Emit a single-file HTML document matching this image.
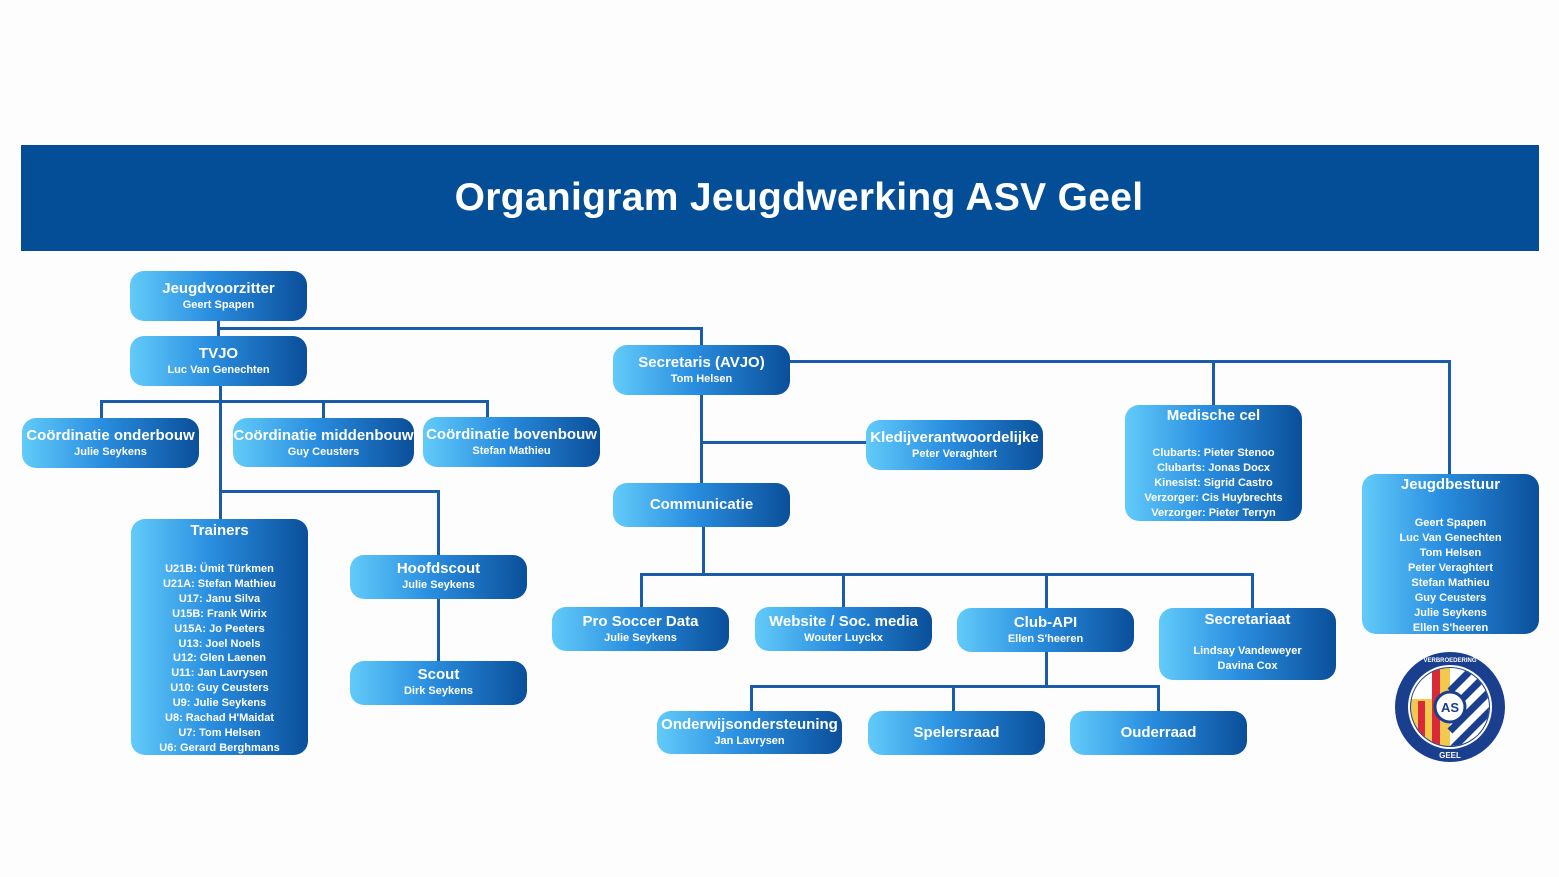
<!DOCTYPE html>
<html><head><meta charset="utf-8"><style>
body{margin:0;width:1559px;height:877px;background:#fdfdfd;position:relative;overflow:hidden;font-family:"Liberation Sans",sans-serif;}
.band{position:absolute;left:21px;top:145px;width:1518px;height:106px;background:#034e96;color:#fff;font-weight:bold;font-size:39px;text-align:center;line-height:106px;letter-spacing:0.3px;box-sizing:border-box;padding-left:38px}
.n{position:absolute;border-radius:14px;background:linear-gradient(90deg,#62cbf9 0%,#2a8ee0 45%,#0a4f9a 100%);color:#fff;text-align:center;font-weight:bold;box-sizing:border-box;padding-top:9px;white-space:nowrap}
.n b{display:block;font-size:15px;line-height:18px}
.n i{display:block;font-style:normal;font-size:11px;line-height:15px}
.l{position:absolute;background:#1a5ca8}
</style></head><body>
<div class="band">Organigram Jeugdwerking ASV Geel</div>

<div class="l" style="left:217px;top:321px;width:3px;height:16px"></div>
<div class="l" style="left:217px;top:327px;width:485px;height:3px"></div>
<div class="l" style="left:700px;top:327px;width:3px;height:19px"></div>
<div class="l" style="left:219px;top:386px;width:3px;height:134px"></div>
<div class="l" style="left:100px;top:400px;width:389px;height:3px"></div>
<div class="l" style="left:100px;top:400px;width:3px;height:19px"></div>
<div class="l" style="left:322px;top:400px;width:3px;height:19px"></div>
<div class="l" style="left:486px;top:400px;width:3px;height:18px"></div>
<div class="l" style="left:219px;top:490px;width:220px;height:3px"></div>
<div class="l" style="left:437px;top:490px;width:3px;height:66px"></div>
<div class="l" style="left:437px;top:599px;width:3px;height:62px"></div>
<div class="l" style="left:700px;top:395px;width:3px;height:89px"></div>
<div class="l" style="left:700px;top:441px;width:167px;height:3px"></div>
<div class="l" style="left:790px;top:360px;width:661px;height:3px"></div>
<div class="l" style="left:1212px;top:360px;width:3px;height:46px"></div>
<div class="l" style="left:1448px;top:362px;width:3px;height:113px"></div>
<div class="l" style="left:702px;top:527px;width:3px;height:48px"></div>
<div class="l" style="left:640px;top:573px;width:614px;height:3px"></div>
<div class="l" style="left:640px;top:573px;width:3px;height:35px"></div>
<div class="l" style="left:842px;top:573px;width:3px;height:35px"></div>
<div class="l" style="left:1045px;top:573px;width:3px;height:36px"></div>
<div class="l" style="left:1251px;top:573px;width:3px;height:36px"></div>
<div class="l" style="left:1045px;top:652px;width:3px;height:35px"></div>
<div class="l" style="left:750px;top:685px;width:409px;height:3px"></div>
<div class="l" style="left:750px;top:685px;width:3px;height:27px"></div>
<div class="l" style="left:952px;top:685px;width:3px;height:27px"></div>
<div class="l" style="left:1157px;top:685px;width:3px;height:27px"></div>

<div class="n" style="left:130px;top:271px;width:177px;height:50px"><b>Jeugdvoorzitter</b><i>Geert Spapen</i></div>
<div class="n" style="left:130px;top:336px;width:177px;height:50px"><b>TVJO</b><i>Luc Van Genechten</i></div>
<div class="n" style="left:22px;top:418px;width:177px;height:50px"><b>Coördinatie onderbouw</b><i>Julie Seykens</i></div>
<div class="n" style="left:233px;top:418px;width:181px;height:49px"><b>Coördinatie middenbouw</b><i>Guy Ceusters</i></div>
<div class="n" style="left:423px;top:417px;width:177px;height:50px"><b>Coördinatie bovenbouw</b><i>Stefan Mathieu</i></div>
<div class="n" style="left:131px;top:519px;width:177px;height:236px;padding-top:3px"><b>Trainers</b><i style="margin-top:22px;line-height:14.9px">U21B: Ümit Türkmen<br>U21A: Stefan Mathieu<br>U17: Janu Silva<br>U15B: Frank Wirix<br>U15A: Jo Peeters<br>U13: Joel Noels<br>U12: Glen Laenen<br>U11: Jan Lavrysen<br>U10: Guy Ceusters<br>U9: Julie Seykens<br>U8: Rachad H'Maidat<br>U7: Tom Helsen<br>U6: Gerard Berghmans</i></div>
<div class="n" style="left:350px;top:555px;width:177px;height:44px;padding-top:5px"><b>Hoofdscout</b><i>Julie Seykens</i></div>
<div class="n" style="left:350px;top:661px;width:177px;height:44px;padding-top:5px"><b>Scout</b><i>Dirk Seykens</i></div>
<div class="n" style="left:613px;top:345px;width:177px;height:50px"><b>Secretaris (AVJO)</b><i>Tom Helsen</i></div>
<div class="n" style="left:866px;top:420px;width:177px;height:50px"><b>Kledijverantwoordelijke</b><i>Peter Veraghtert</i></div>
<div class="n" style="left:613px;top:483px;width:177px;height:44px;padding-top:13px"><b>Communicatie</b></div>
<div class="n" style="left:1125px;top:405px;width:177px;height:116px;padding-top:2px"><b>Medische cel</b><i style="margin-top:21px">Clubarts: Pieter Stenoo<br>Clubarts: Jonas Docx<br>Kinesist: Sigrid Castro<br>Verzorger: Cis Huybrechts<br>Verzorger: Pieter Terryn</i></div>
<div class="n" style="left:1362px;top:474px;width:177px;height:160px;padding-top:2px"><b>Jeugdbestuur</b><i style="margin-top:22px">Geert Spapen<br>Luc Van Genechten<br>Tom Helsen<br>Peter Veraghtert<br>Stefan Mathieu<br>Guy Ceusters<br>Julie Seykens<br>Ellen S'heeren</i></div>
<div class="n" style="left:552px;top:607px;width:177px;height:44px;padding-top:6px"><b>Pro Soccer Data</b><i>Julie Seykens</i></div>
<div class="n" style="left:755px;top:607px;width:177px;height:44px;padding-top:6px"><b>Website / Soc. media</b><i>Wouter Luyckx</i></div>
<div class="n" style="left:957px;top:608px;width:177px;height:44px;padding-top:6px"><b>Club-API</b><i>Ellen S'heeren</i></div>
<div class="n" style="left:1159px;top:608px;width:177px;height:72px;padding-top:3px"><b>Secretariaat</b><i style="margin-top:15px">Lindsay Vandeweyer<br>Davina Cox</i></div>
<div class="n" style="left:657px;top:711px;width:185px;height:43px;padding-top:5px"><b>Onderwijsondersteuning</b><i>Jan Lavrysen</i></div>
<div class="n" style="left:868px;top:711px;width:177px;height:44px;padding-top:13px"><b>Spelersraad</b></div>
<div class="n" style="left:1070px;top:711px;width:177px;height:44px;padding-top:13px"><b>Ouderraad</b></div>

<svg style="position:absolute;left:1394px;top:651px" width="112" height="112" viewBox="0 0 112 112">
<circle cx="56" cy="56" r="55" fill="#1a3f8f"/>
<circle cx="56" cy="56" r="42" fill="#fff"/>
<circle cx="56" cy="56" r="40" fill="#1a3f8f"/>
<clipPath id="cp"><circle cx="56" cy="56" r="39"/></clipPath>
<g clip-path="url(#cp)">
<rect x="14" y="14" width="42" height="84" fill="#f2c94c"/>
<rect x="38" y="14" width="8" height="84" fill="#d8283a"/>
<rect x="24" y="50" width="7" height="50" fill="#d8283a"/>
<rect x="14" y="14" width="24" height="34" fill="#fff"/>
<rect x="56" y="14" width="42" height="84" fill="#fff"/>
<g stroke="#1a3f8f" stroke-width="7"><line x1="56" y1="40" x2="90" y2="6"/><line x1="56" y1="60" x2="100" y2="16"/><line x1="56" y1="80" x2="105" y2="31"/><line x1="56" y1="100" x2="110" y2="46"/></g>
</g>
<circle cx="56" cy="56" r="15" fill="#fff" stroke="#1a3f8f" stroke-width="3"/>
<text x="56" y="61" font-family="Liberation Sans" font-weight="bold" font-size="13" fill="#1a3f8f" text-anchor="middle">AS</text>
<text x="56" y="11" font-family="Liberation Sans" font-weight="bold" font-size="6" fill="#fff" text-anchor="middle">VERBROEDERING</text>
<text x="56" y="107" font-family="Liberation Sans" font-weight="bold" font-size="8" fill="#fff" text-anchor="middle">GEEL</text>
</svg>
</body></html>
